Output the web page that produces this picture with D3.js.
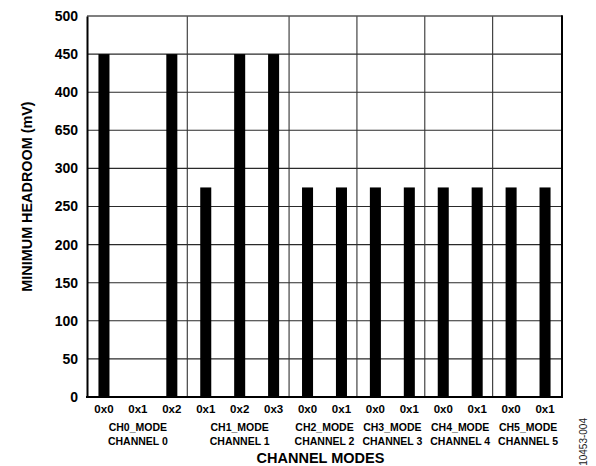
<!DOCTYPE html>
<html>
<head>
<meta charset="utf-8">
<script src="https://cdn.jsdelivr.net/npm/d3@7"></script>
<style>
  html, body { margin: 0; padding: 0; background: #fff; }
  svg { display: block; font-family: "Liberation Sans", Arial, sans-serif; }
</style>
</head>
<body>
<svg id="chart" width="596" height="466"></svg>
<script>
// Channel mode registers and the minimum headroom each setting needs (mV)
const modeGroups = ["CH0_MODE", "CH1_MODE", "CH2_MODE", "CH3_MODE", "CH4_MODE", "CH5_MODE"];
const channelNames = ["CHANNEL 0", "CHANNEL 1", "CHANNEL 2", "CHANNEL 3", "CHANNEL 4", "CHANNEL 5"];
const modeCodes = [
  ["0x0", "0x1", "0x2"],
  ["0x1", "0x2", "0x3"],
  ["0x0", "0x1"],
  ["0x0", "0x1"],
  ["0x0", "0x1"],
  ["0x0", "0x1"]
];
const headroomMv = [
  [450, 0, 450],
  [275, 450, 450],
  [275, 275],
  [275, 275],
  [275, 275],
  [275, 275]
];
const yTickValues = [0, 50, 100, 150, 200, 250, 300, 350, 400, 450, 500];
const yTickLabels = ["0", "50", "100", "150", "200", "250", "300", "650", "400", "450", "500"];

const svg = d3.select("#chart");
const plot = { left: 87, right: 562, top: 16, bottom: 397 };

// Flatten into one slot per mode setting
const slots = [];
modeGroups.forEach((g, gi) => {
  modeCodes[gi].forEach((code, ci) => {
    slots.push({ id: g + "|" + code, group: gi, code: code, value: headroomMv[gi][ci] });
  });
});

const x = d3.scaleBand()
  .domain(slots.map(d => d.id))
  .range([plot.left, plot.right])
  .paddingInner(0.675)
  .paddingOuter(0.3375);

const y = d3.scaleLinear().domain([0, 500]).range([plot.bottom, plot.top]);

// Horizontal gridlines
svg.append("g")
  .selectAll("line")
  .data(yTickValues.slice(1, -1))
  .join("line")
  .attr("x1", plot.left).attr("x2", plot.right)
  .attr("y1", d => y(d)).attr("y2", d => y(d))
  .attr("stroke", "#2a2a2a").attr("stroke-width", 1.1);

// Vertical dividers between the mode registers
const step = x.step();
let count = 0;
const dividers = [];
modeCodes.slice(0, -1).forEach(codes => { count += codes.length; dividers.push(plot.left + count * step - 1.5); });
svg.append("g")
  .selectAll("line")
  .data(dividers)
  .join("line")
  .attr("x1", d => d).attr("x2", d => d)
  .attr("y1", plot.top).attr("y2", plot.bottom)
  .attr("stroke", "#333").attr("stroke-width", 1.1);

// Bars
svg.append("g")
  .selectAll("rect")
  .data(slots.filter(d => d.value > 0))
  .join("rect")
  .attr("x", d => x(d.id))
  .attr("width", x.bandwidth())
  .attr("y", d => y(d.value))
  .attr("height", d => y(0) - y(d.value))
  .attr("fill", "#000");

// Frame
svg.append("line").attr("x1", plot.left).attr("x2", plot.right).attr("y1", plot.top).attr("y2", plot.top)
  .attr("stroke", "#555").attr("stroke-width", 1.5);
svg.append("line").attr("x1", plot.right).attr("x2", plot.right).attr("y1", plot.top - 0.75).attr("y2", plot.bottom)
  .attr("stroke", "#000").attr("stroke-width", 2);

// Y axis
const yAxis = d3.axisLeft(y)
  .tickValues(yTickValues)
  .tickFormat((d, i) => yTickLabels[i])
  .tickSize(0)
  .tickPadding(9);
const gy = svg.append("g").attr("transform", `translate(${plot.left},0)`).call(yAxis);
gy.select(".domain").attr("stroke", "#000").attr("stroke-width", 2);
gy.selectAll("text").attr("font-size", 14).attr("font-weight", "bold")
  .attr("font-family", "Liberation Sans, Arial, sans-serif").attr("fill", "#000");

// X axis
const xAxis = d3.axisBottom(x)
  .tickFormat(id => id.split("|")[1])
  .tickSize(0)
  .tickPadding(8);
const gx = svg.append("g").attr("transform", `translate(0,${plot.bottom})`).call(xAxis);
gx.select(".domain").attr("stroke", "#000").attr("stroke-width", 2)
  .attr("d", `M${plot.left - 1},0H${plot.right + 1}`);
gx.selectAll("text").attr("font-size", 11.5).attr("font-weight", "bold")
  .attr("font-family", "Liberation Sans, Arial, sans-serif").attr("fill", "#000");

// Register and channel names under each group
const groupCenters = [];
let start = 0;
modeCodes.forEach(codes => {
  const a = x(slots[start].id), b = x(slots[start + codes.length - 1].id) + x.bandwidth();
  groupCenters.push((a + b) / 2);
  start += codes.length;
});
const groupLabels = svg.append("g").attr("font-size", 10.5).attr("font-weight", "bold").attr("text-anchor", "middle");
groupLabels.selectAll("text.mode")
  .data(modeGroups)
  .join("text")
  .attr("class", "mode")
  .attr("x", (d, i) => groupCenters[i])
  .attr("y", 431.3)
  .text(d => d);
groupLabels.selectAll("text.chan")
  .data(channelNames)
  .join("text")
  .attr("class", "chan")
  .attr("x", (d, i) => groupCenters[i])
  .attr("y", 445.3)
  .text(d => d);

// Axis titles
svg.append("text")
  .attr("x", (plot.left + plot.right) / 2 - 4)
  .attr("y", 463)
  .attr("text-anchor", "middle")
  .attr("font-size", 14.5).attr("font-weight", "bold")
  .text("CHANNEL MODES");

svg.append("text")
  .attr("transform", "translate(31.5,196.5) rotate(-90)")
  .attr("text-anchor", "middle")
  .attr("font-size", 14.4).attr("font-weight", "bold")
  .text("MINIMUM HEADROOM (mV)");

// Figure number
svg.append("text")
  .attr("transform", "translate(586.5,418) rotate(-90)")
  .attr("text-anchor", "end")
  .attr("font-size", 10)
  .attr("fill", "#222")
  .text("10453-004");
</script>
</body>
</html>
